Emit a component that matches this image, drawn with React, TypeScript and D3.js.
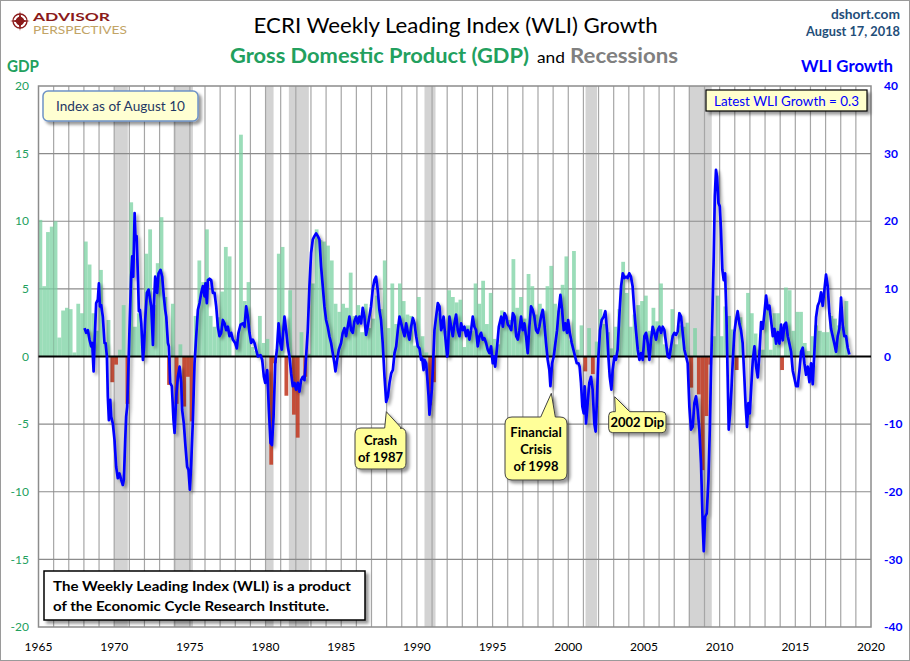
import React from "react";
import * as d3 from "d3";

const W = 910;
const H = 661;
const PLOT = { left: 38.5, right: 871, top: 86, bottom: 627 };
const FONT = "Lato, 'Open Sans', 'DejaVu Sans', sans-serif";

const xTickYears = [1965, 1970, 1975, 1980, 1985, 1990, 1995, 2000, 2005, 2010, 2015, 2020];
const gdpTicks = [-20, -15, -10, -5, 0, 5, 10, 15, 20];
const wliTicks = [-40, -30, -20, -10, 0, 10, 20, 30, 40];

// Real GDP growth, quarterly (annualized %), starting 1965 Q1
const gdpStartYear = 1965;
const gdpGrowth = [
  10.1, 5.2, 9.2, 9.6,
  10.0, 1.4, 3.4, 3.6,
  3.5, 0.3, 3.9, 3.2,
  8.5, 6.8, 3.2, 1.9,
  6.4, 1.0, 2.7, -1.9,
  -0.6, 0.5, 3.8, -3.5,
  11.4, 2.2, 3.2, 1.2,
  7.6, 9.4, 3.8, 6.9,
  10.3, 4.4, -2.1, 3.9,
  -3.5, 0.9, -3.7, -1.5,
  -4.8, 3.0, 7.1, 5.5,
  9.4, 3.0, 2.2, 2.9,
  4.8, 8.1, 7.4, 0.0,
  1.3, 16.4, 4.1, 5.5,
  0.7, 0.4, 3.0, 1.0,
  1.3, -8.0, -0.5, 7.6,
  8.1, -2.9, 4.9, -4.3,
  -6.0, 1.8, -1.5, 0.2,
  5.4, 9.4, 8.6, 8.5,
  8.2, 7.1, 3.9, 3.3,
  3.9, 3.6, 6.2, 3.0,
  3.8, 1.8, 3.9, 2.1,
  2.8, 4.5, 3.5, 7.1,
  2.1, 5.4, 2.4, 5.4,
  4.1, 3.1, 3.0, 0.8,
  4.4, 1.5, 0.3, -3.6,
  -1.9, 3.2, 2.0, 1.9,
  4.9, 4.4, 4.0, 4.2,
  0.7, 2.3, 1.9, 5.4,
  3.9, 5.6, 2.4, 4.7,
  1.3, 0.9, 3.4, 2.9,
  2.7, 7.2, 3.6, 4.4,
  2.8, 6.1, 5.2, 3.1,
  3.9, 3.4, 5.2, 6.7,
  3.9, 3.4, 5.3, 7.4,
  1.2, 7.8, 0.5, 2.3,
  -1.1, 2.1, -1.3, 1.1,
  3.5, 2.4, 1.8, 0.6,
  2.2, 3.5, 7.0, 4.7,
  2.2, 3.1, 3.8, 4.1,
  4.5, 1.9, 3.6, 2.6,
  5.4, 0.9, 0.6, 3.5,
  0.9, 2.3, 2.2, 2.5,
  -2.3, 2.1, -2.8, -8.4,
  -4.4, -0.6, 1.5, 4.5,
  1.5, 3.7, 3.0, 2.0,
  -1.0, 2.9, -0.1, 4.7,
  3.2, 1.7, 0.5, 0.5,
  3.6, 0.5, 3.2, 3.2,
  -1.0, 5.1, 4.9, 1.9,
  3.3, 3.3, 1.0, 0.4,
  1.5, 2.3, 1.9, 1.8,
  1.8, 3.0, 2.8, 2.3,
  2.2, 4.1,
];

// Recessions (decimal years)
const recessions: [number, number][] = [
  [1970.0, 1970.9],
  [1973.92, 1975.2],
  [1980.0, 1980.53],
  [1981.54, 1982.86],
  [1990.5, 1991.23],
  [2001.14, 2001.9],
  [2007.96, 2009.48],
];

// ECRI WLI growth: [decimal year, growth %]
const wliGrowth: [number, number][] = [
  [1968.04, 4.2], [1968.15, 3.5], [1968.26, 3.9], [1968.37, 2.5], [1968.48, 1.5], [1968.55, 2.0],
  [1968.64, -2.2], [1968.7, 2.0], [1968.81, 7.9], [1968.92, 8.4], [1968.99, 10.8], [1969.06, 7.4],
  [1969.14, 7.6], [1969.25, 5.9], [1969.36, 2.0], [1969.43, 2.0], [1969.52, 0], [1969.58, -5.9],
  [1969.65, -9.4], [1969.74, -6.4], [1969.8, -8.9], [1969.91, -9.9], [1970.02, -12.3], [1970.13, -16.3],
  [1970.24, -18.0], [1970.35, -17.3], [1970.46, -18.2], [1970.57, -19.0], [1970.64, -18.2], [1970.73, -12.3],
  [1970.79, -8.9], [1970.86, -7.4], [1970.95, -1.0], [1971.01, 3.9], [1971.12, 11.8], [1971.19, 14.8],
  [1971.26, 11.8], [1971.35, 21.2], [1971.41, 17.3], [1971.48, 17.8], [1971.57, 11.8], [1971.63, 6.7],
  [1971.7, 6.9], [1971.79, 4.9], [1971.9, -0.5], [1971.96, 1.0], [1972.05, 5.4], [1972.16, 9.4],
  [1972.27, 9.9], [1972.34, 8.9], [1972.45, 7.4], [1972.56, 1.7], [1972.62, 7.4], [1972.71, 11.8],
  [1972.78, 10.8], [1972.84, 9.4], [1972.93, 12.3], [1973.06, 12.8], [1973.17, 11.8], [1973.28, 8.9],
  [1973.37, 6.9], [1973.44, 5.9], [1973.55, 2.0], [1973.61, 1.5], [1973.7, -3.9], [1973.81, -4.4],
  [1973.92, -9.4], [1973.99, -11.3], [1974.1, -5.9], [1974.21, -3.0], [1974.32, -1.5], [1974.43, -3.9],
  [1974.49, -7.9], [1974.6, -9.9], [1974.71, -13.3], [1974.82, -16.3], [1974.91, -16.8], [1975.0, -19.7],
  [1975.09, -15.8], [1975.2, -9.4], [1975.31, -1.0], [1975.42, 3.0], [1975.53, 6.9], [1975.64, 7.9],
  [1975.75, 9.4], [1975.86, 10.4], [1975.97, 8.9], [1976.03, 10.8], [1976.12, 7.9], [1976.19, 11.3],
  [1976.3, 11.5], [1976.41, 11.3], [1976.52, 9.4], [1976.63, 9.4], [1976.74, 7.4], [1976.85, 4.4],
  [1976.96, 3.0], [1977.07, 3.5], [1977.18, 5.4], [1977.29, 4.9], [1977.4, 3.9], [1977.51, 4.4],
  [1977.62, 3.0], [1977.73, 3.5], [1977.84, 2.5], [1977.99, 2.0], [1978.1, 1.2], [1978.21, 3.5],
  [1978.35, 4.7], [1978.5, 4.9], [1978.61, 4.4], [1978.72, 7.4], [1978.83, 5.9], [1978.94, 3.5],
  [1979.05, 2.0], [1979.16, 2.5], [1979.27, 2.0], [1979.38, 1.0], [1979.49, 0], [1979.67, 0.2],
  [1979.78, -0.5], [1979.89, -3.0], [1979.98, -3.9], [1980.11, -2.0], [1980.22, -7.9], [1980.33, -12.8],
  [1980.42, -13.1], [1980.53, -8.9], [1980.64, -1.0], [1980.75, 1.0], [1980.86, 4.9], [1980.97, 2.0],
  [1981.07, 1.0], [1981.25, 5.9], [1981.36, 3.9], [1981.47, 1.5], [1981.58, 0], [1981.69, -2.5],
  [1981.8, -4.4], [1981.91, -3.9], [1982.02, -4.9], [1982.13, -3.9], [1982.24, -5.2], [1982.35, -3.5],
  [1982.46, -3.0], [1982.57, -3.5], [1982.68, 0], [1982.79, 3.9], [1982.9, 10.4], [1983.01, 15.3],
  [1983.12, 17.3], [1983.23, 17.8], [1983.34, 18.2], [1983.45, 17.8], [1983.56, 17.3], [1983.67, 13.3],
  [1983.78, 10.4], [1983.89, 7.4], [1984.0, 5.4], [1984.11, 4.4], [1984.22, 3.0], [1984.33, 2.0],
  [1984.44, 0.5], [1984.55, -1.0], [1984.62, -2.2], [1984.73, -0.5], [1984.84, 1.0], [1984.99, 2.0],
  [1985.1, 3.5], [1985.21, 4.2], [1985.32, 3.0], [1985.43, 4.4], [1985.54, 5.9], [1985.65, 3.9],
  [1985.76, 3.5], [1985.87, 5.2], [1985.98, 5.9], [1986.09, 4.9], [1986.2, 5.9], [1986.31, 4.9],
  [1986.42, 7.2], [1986.53, 5.9], [1986.64, 3.2], [1986.75, 4.4], [1986.86, 5.9], [1986.97, 7.4],
  [1987.08, 9.9], [1987.19, 11.3], [1987.3, 11.8], [1987.41, 9.9], [1987.52, 6.9], [1987.63, 5.4],
  [1987.74, 2.0], [1987.86, -3.0], [1987.97, -6.7], [1988.08, -5.9], [1988.19, -3.9], [1988.3, -2.5],
  [1988.41, -2.0], [1988.52, 0.5], [1988.63, 1.5], [1988.74, 3.9], [1988.85, 5.9], [1988.96, 4.9],
  [1989.07, 3.9], [1989.18, 3.0], [1989.29, 4.9], [1989.4, 3.5], [1989.51, 2.5], [1989.62, 4.4],
  [1989.73, 5.7], [1989.84, 4.9], [1989.95, 3.0], [1990.06, 1.5], [1990.17, 1.2], [1990.28, -0.5],
  [1990.35, -0.2], [1990.44, -2.0], [1990.5, -0.5], [1990.61, -1.0], [1990.68, -3.0], [1990.77, -5.9],
  [1990.83, -8.6], [1990.9, -6.9], [1990.99, -4.9], [1991.07, -1.0], [1991.16, 3.9], [1991.27, 5.9],
  [1991.38, 7.9], [1991.49, 7.4], [1991.6, 3.9], [1991.67, 4.4], [1991.76, 5.9], [1991.87, 3.0],
  [1992.0, 0], [1992.04, 0.5], [1992.15, 5.9], [1992.26, 4.4], [1992.37, 3.0], [1992.48, 4.9],
  [1992.59, 6.2], [1992.7, 3.9], [1992.81, 3.0], [1992.92, 4.9], [1993.03, 3.9], [1993.14, 4.4],
  [1993.25, 3.0], [1993.36, 3.9], [1993.47, 2.5], [1993.58, 3.9], [1993.69, 5.9], [1993.8, 4.4],
  [1993.91, 3.9], [1994.02, 1.5], [1994.13, 3.0], [1994.24, 3.5], [1994.35, 2.5], [1994.46, 2.7],
  [1994.57, 2.0], [1994.68, 1.0], [1994.79, 0.5], [1994.9, 1.5], [1995.01, -1.0], [1995.08, 0],
  [1995.17, -1.5], [1995.28, 1.0], [1995.41, 4.4], [1995.57, 5.9], [1995.68, 4.4], [1995.79, 6.4],
  [1995.9, 5.9], [1996.01, 4.7], [1996.12, 4.4], [1996.23, 3.9], [1996.34, 6.4], [1996.45, 5.9],
  [1996.56, 3.0], [1996.67, 2.5], [1996.77, 3.9], [1996.88, 5.9], [1996.99, 3.9], [1997.1, 4.9],
  [1997.21, 3.0], [1997.32, 0.5], [1997.43, 4.4], [1997.54, 7.4], [1997.65, 6.9], [1997.76, 5.9],
  [1997.87, 3.9], [1997.98, 3.5], [1998.09, 4.4], [1998.2, 5.9], [1998.31, 6.9], [1998.42, 4.9],
  [1998.53, 2.0], [1998.64, -0.5], [1998.75, -2.0], [1998.82, -4.4], [1998.93, -1.0], [1999.04, 0],
  [1999.15, 2.0], [1999.26, 3.9], [1999.37, 6.9], [1999.48, 9.1], [1999.59, 6.9], [1999.7, 3.9],
  [1999.81, 4.9], [1999.92, 3.5], [1999.99, 5.4], [2000.1, 3.5], [2000.23, 2.0], [2000.34, 1.0],
  [2000.45, 0], [2000.56, -1.0], [2000.67, -1.0], [2000.75, -1.5], [2000.84, -3.9], [2000.93, -7.4],
  [2001.02, -8.4], [2001.08, -4.4], [2001.17, -9.9], [2001.28, -6.9], [2001.39, -3.9], [2001.5, -3.0],
  [2001.61, -4.9], [2001.72, -9.9], [2001.81, -11.1], [2001.9, -5.9], [2001.99, 0], [2002.1, 3.9],
  [2002.21, 5.4], [2002.34, 5.9], [2002.45, 6.7], [2002.56, 3.9], [2002.65, 0], [2002.74, -3.0],
  [2002.85, -4.9], [2002.93, -2.0], [2003.05, 0], [2003.15, -0.5], [2003.26, 1.0], [2003.37, 5.9],
  [2003.49, 10.4], [2003.6, 12.3], [2003.71, 11.6], [2003.82, 11.8], [2003.92, 11.6], [2004.03, 12.3],
  [2004.14, 11.8], [2004.25, 10.4], [2004.36, 6.9], [2004.47, 3.9], [2004.59, 1.0], [2004.7, -0.5],
  [2004.81, 0.5], [2004.92, -0.5], [2005.03, 3.0], [2005.14, 3.5], [2005.25, 2.0], [2005.36, -0.5],
  [2005.47, 2.5], [2005.58, 4.4], [2005.69, 3.5], [2005.8, 2.5], [2005.91, 3.9], [2006.02, 4.4],
  [2006.13, 3.5], [2006.24, 4.4], [2006.35, 3.9], [2006.46, 2.0], [2006.57, 0], [2006.68, -0.2],
  [2006.79, 1.5], [2006.9, 3.0], [2007.01, 3.5], [2007.12, 3.2], [2007.23, 3.7], [2007.34, 6.4],
  [2007.45, 5.9], [2007.56, 3.5], [2007.67, 1.0], [2007.78, 0], [2007.89, -1.0], [2008.0, -7.4],
  [2008.11, -10.8], [2008.22, -10.4], [2008.33, -6.9], [2008.44, -5.9], [2008.55, -7.9], [2008.66, -10.8],
  [2008.77, -15.8], [2008.88, -24.7], [2008.95, -28.8], [2009.04, -23.7], [2009.15, -23.2], [2009.26, -18.2],
  [2009.35, -10.8], [2009.43, -2.0], [2009.52, 5.9], [2009.61, 14.8], [2009.68, 23.7], [2009.76, 27.6],
  [2009.83, 26.6], [2009.92, 22.7], [2010.01, 22.2], [2010.09, 18.7], [2010.18, 12.8], [2010.27, 11.3],
  [2010.36, 12.3], [2010.45, 5.9], [2010.53, -3.0], [2010.6, -10.8], [2010.69, -8.4], [2010.78, -4.9],
  [2010.86, -1.0], [2010.97, 3.5], [2011.08, 5.4], [2011.19, 6.7], [2011.3, 4.9], [2011.41, 3.9],
  [2011.52, 2.0], [2011.63, -3.0], [2011.72, -7.4], [2011.81, -10.4], [2011.9, -6.9], [2011.99, -8.4],
  [2012.08, -4.9], [2012.19, -0.5], [2012.3, 1.5], [2012.41, -1.5], [2012.52, -3.1], [2012.63, 0.5],
  [2012.74, 5.1], [2012.85, 4.1], [2012.96, 6.4], [2013.07, 9.0], [2013.18, 7.0], [2013.29, 7.5],
  [2013.4, 5.3], [2013.51, 3.0], [2013.62, 4.1], [2013.73, 1.9], [2013.84, 3.6], [2013.95, 1.9],
  [2014.06, 4.7], [2014.17, 2.4], [2014.28, 4.7], [2014.39, 5.0], [2014.5, 3.0], [2014.61, 1.9],
  [2014.72, 0.7], [2014.83, -2.1], [2014.94, -3.2], [2015.05, -4.4], [2015.16, -4.4], [2015.27, -2.1],
  [2015.38, 0.7], [2015.49, 1.3], [2015.6, -1.0], [2015.71, -2.7], [2015.82, -1.5], [2015.93, -3.8],
  [2016.04, -1.0], [2016.15, -4.1], [2016.26, 0.7], [2016.37, 5.8], [2016.48, 7.5], [2016.59, 8.1],
  [2016.7, 9.5], [2016.81, 7.5], [2016.92, 9.8], [2017.03, 12.1], [2017.14, 10.4], [2017.25, 6.4],
  [2017.36, 4.1], [2017.47, 3.0], [2017.58, 1.9], [2017.69, 0.7], [2017.8, 3.0], [2017.91, 4.1],
  [2018.02, 8.7], [2018.13, 4.7], [2018.24, 3.0], [2018.35, 3.0], [2018.46, 1.3], [2018.57, 0.3],
];

const latestWli = 0.3;

function calloutPath(
  x0: number, y0: number, x1: number, y1: number, r: number,
  bx0: number, bx1: number, tx: number, ty: number
) {
  return [
    `M${x0 + r},${y0}`,
    `L${bx0},${y0}`,
    `L${tx},${ty}`,
    `L${bx1},${y0}`,
    `L${x1 - r},${y0}`,
    `Q${x1},${y0} ${x1},${y0 + r}`,
    `L${x1},${y1 - r}`,
    `Q${x1},${y1} ${x1 - r},${y1}`,
    `L${x0 + r},${y1}`,
    `Q${x0},${y1} ${x0},${y1 - r}`,
    `L${x0},${y0 + r}`,
    `Q${x0},${y0} ${x0 + r},${y0}`,
    "Z",
  ].join(" ");
}

export default function App() {
  const x = d3.scaleLinear().domain([1965, 2020]).range([PLOT.left, PLOT.right]);
  const yL = d3.scaleLinear().domain([-20, 20]).range([PLOT.bottom, PLOT.top]);
  const yR = d3.scaleLinear().domain([-40, 40]).range([PLOT.bottom, PLOT.top]);

  const line = d3
    .line<[number, number]>()
    .x((d) => x(d[0]))
    .y((d) => yR(d[1]))
    .curve(d3.curveLinear);

  const yearGrid = d3.range(1966, 2020);
  const green = "#22A05E";
  const calloutFill = "#FFFF99";

  return (
    <div style={{ position: "fixed", left: 0, top: 0, width: W, height: H, background: "#fff" }}>
      <svg width={W} height={H} style={{ display: "block" }} fontFamily={FONT}>
        <defs>
          <filter id="lineShadow" x="-10%" y="-10%" width="120%" height="120%">
            <feDropShadow dx="2.5" dy="2.5" stdDeviation="1.4" floodColor="#000" floodOpacity="0.35" />
          </filter>
          <filter id="boxShadow" x="-20%" y="-30%" width="150%" height="180%">
            <feDropShadow dx="3" dy="3" stdDeviation="1.8" floodColor="#000" floodOpacity="0.4" />
          </filter>
          <clipPath id="plotClip">
            <rect x={PLOT.left} y={PLOT.top} width={PLOT.right - PLOT.left} height={PLOT.bottom - PLOT.top} />
          </clipPath>
        </defs>

        <rect x={0} y={0} width={W} height={H} fill="#fff" />
        <rect x={0.5} y={0.5} width={W - 1} height={H - 1} fill="none" stroke="#9a9a9a" strokeWidth={1} />

        {/* Logo */}
        <g>
          <circle cx={20} cy={21} r={7} fill="none" stroke="#8B1A1A" strokeWidth={1.3} />
          <circle cx={20} cy={21} r={4.2} fill="#8B1A1A" />
          <path
            d="M20,11 L21.6,19.4 L30,21 L21.6,22.6 L20,31 L18.4,22.6 L10,21 L18.4,19.4 Z"
            fill="#8B1A1A"
          />
          <text x={33} y={20.5} fontSize={11.5} fontWeight={700} fill="#8B1A1A" textLength={77} lengthAdjust="spacingAndGlyphs">
            ADVISOR
          </text>
          <text x={33} y={33.5} fontSize={11} fill="#C2A466" textLength={94} lengthAdjust="spacingAndGlyphs">
            PERSPECTIVES
          </text>
        </g>

        {/* Titles */}
        <text x={455.6} y={33} fontSize={22} textAnchor="middle" fill="#000" textLength={404} lengthAdjust="spacingAndGlyphs">
          ECRI Weekly Leading Index (WLI) Growth
        </text>
        <text x={230} y={63} fontSize={21} fontWeight={700} fill={green} textLength={299} lengthAdjust="spacingAndGlyphs">
          Gross Domestic Product (GDP)
        </text>
        <text x={537} y={63} fontSize={16} fill="#000" textLength={28} lengthAdjust="spacingAndGlyphs">
          and
        </text>
        <text x={570} y={63} fontSize={21} fontWeight={700} fill="#808080" textLength={108} lengthAdjust="spacingAndGlyphs">
          Recessions
        </text>
        <text x={900} y={19} fontSize={14} fontWeight={700} fill="#1F4E79" textAnchor="end" textLength={69} lengthAdjust="spacingAndGlyphs">
          dshort.com
        </text>
        <text x={900} y={36} fontSize={13} fontWeight={700} fill="#1F4E79" textAnchor="end" textLength={94} lengthAdjust="spacingAndGlyphs">
          August 17, 2018
        </text>
        <text x={7} y={72} fontSize={17} fontWeight={700} fill={green} textLength={32} lengthAdjust="spacingAndGlyphs">
          GDP
        </text>
        <text x={801} y={72} fontSize={17} fontWeight={700} fill="#0000FF" textLength={92} lengthAdjust="spacingAndGlyphs">
          WLI Growth
        </text>

        {/* Plot background */}
        <rect x={PLOT.left} y={PLOT.top} width={PLOT.right - PLOT.left} height={PLOT.bottom - PLOT.top} fill="#fff" />

        {/* Recession bands */}
        <g clipPath="url(#plotClip)">
          {recessions.map(([s, e], i) => (
            <rect key={i} x={x(s)} y={PLOT.top} width={x(e) - x(s)} height={PLOT.bottom - PLOT.top} fill="#D3D3D3" />
          ))}
        </g>

        {/* Grid */}
        <g>
          {yearGrid.map((yr) => (
            <line key={yr} x1={x(yr)} x2={x(yr)} y1={PLOT.top} y2={PLOT.bottom} stroke="#A6A6A6" strokeWidth={1.2} />
          ))}
          {gdpTicks.filter((t) => t !== 0 && t !== 20 && t !== -20).map((t) => (
            <line key={t} x1={PLOT.left} x2={PLOT.right} y1={yL(t)} y2={yL(t)} stroke="#8C8C8C" strokeWidth={1.2} />
          ))}
        </g>

        {/* GDP bars */}
        <g clipPath="url(#plotClip)">
          {gdpGrowth.map((v, i) => {
            const s = gdpStartYear + i / 4;
            const x0 = x(s);
            const x1 = x(s + 0.25);
            const y0 = yL(Math.max(0, v));
            const y1 = yL(Math.min(0, v));
            return (
              <rect
                key={i}
                x={x0}
                y={y0}
                width={x1 - x0}
                height={Math.max(0.01, y1 - y0)}
                fill={v >= 0 ? "#7AD2A2" : "#C23A22"}
                fillOpacity={v >= 0 ? 0.75 : 0.88}
              />
            );
          })}
        </g>

        {/* Plot border */}
        <rect x={PLOT.left} y={PLOT.top} width={PLOT.right - PLOT.left} height={PLOT.bottom - PLOT.top} fill="none" stroke="#8C8C8C" strokeWidth={1.5} />

        {/* Zero line */}
        <line x1={PLOT.left} x2={PLOT.right} y1={yL(0)} y2={yL(0)} stroke="#000" strokeWidth={2} />

        {/* WLI line */}
        <path
          d={line(wliGrowth) || ""}
          fill="none"
          stroke="#0000FF"
          strokeWidth={2.7}
          strokeLinejoin="round"
          filter="url(#lineShadow)"
          clipPath="url(#plotClip)"
        />

        {/* Left axis */}
        <g fontSize={12} fill={green} textAnchor="end">
          {gdpTicks.map((t) => (
            <text key={t} x={29} y={yL(t)} dy="0.35em">
              {t}
            </text>
          ))}
        </g>
        {/* Right axis */}
        <g fontSize={12} fontWeight={700} fill="#0000FF" textAnchor="start">
          {wliTicks.map((t) => (
            <text key={t} x={884} y={yR(t)} dy="0.35em">
              {t}
            </text>
          ))}
        </g>
        {/* Bottom axis */}
        <g fontSize={12} fill="#000" textAnchor="middle">
          {xTickYears.map((yr) => (
            <text key={yr} x={x(yr)} y={651}>
              {yr}
            </text>
          ))}
        </g>

        {/* Index as of box */}
        <g>
          <rect x={43} y={91} width={155} height={30} rx={5} fill="#FFFFD2" stroke="#6F93C6" strokeWidth={1.5} filter="url(#boxShadow)" />
          <text x={120.5} y={111} fontSize={14} fill="#1F3864" textAnchor="middle" textLength={129} lengthAdjust="spacingAndGlyphs">
            Index as of August 10
          </text>
        </g>

        {/* Latest WLI box */}
        <g>
          <rect x={706} y={90} width={161} height={21} fill="#FFFFCC" stroke="#000" strokeWidth={1.2} filter="url(#boxShadow)" />
          <text x={786.5} y={105.5} fontSize={13} fill="#0000FF" textAnchor="middle" textLength={145} lengthAdjust="spacingAndGlyphs">
            {`Latest WLI Growth = ${latestWli}`}
          </text>
        </g>

        {/* Source box */}
        <g>
          <rect x={44} y={571} width={321} height={49} fill="#fff" stroke="#000" strokeWidth={1.5} filter="url(#boxShadow)" />
          <text x={53} y={591} fontSize={14} fontWeight={700} fill="#000" textLength={298} lengthAdjust="spacingAndGlyphs">
            The Weekly Leading Index (WLI) is a product
          </text>
          <text x={53} y={611} fontSize={14} fontWeight={700} fill="#000" textLength={276} lengthAdjust="spacingAndGlyphs">
            of the Economic Cycle Research Institute.
          </text>
        </g>

        {/* Callouts */}
        <g fontSize={13} fontWeight={700} fill="#000" textAnchor="middle">
          <path d={calloutPath(355, 428, 406, 469, 6, 384.7, 401.3, 386.3, 411.7)} fill={calloutFill} stroke="#404040" strokeWidth={1} filter="url(#boxShadow)" />
          <text x={380.5} y={445}>Crash</text>
          <text x={380.5} y={462}>of 1987</text>

          <path d={calloutPath(505, 417, 567, 480, 7, 540.7, 555.3, 551.3, 393.3)} fill={calloutFill} stroke="#404040" strokeWidth={1} filter="url(#boxShadow)" />
          <text x={536} y={437}>Financial</text>
          <text x={536} y={454}>Crisis</text>
          <text x={536} y={471}>of 1998</text>

          <path d={calloutPath(608.7, 411.7, 666, 432.7, 4, 615.3, 629.7, 614.7, 396.7)} fill={calloutFill} stroke="#404040" strokeWidth={1} filter="url(#boxShadow)" />
          <text x={637.3} y={427}>2002 Dip</text>
        </g>
      </svg>
    </div>
  );
}
